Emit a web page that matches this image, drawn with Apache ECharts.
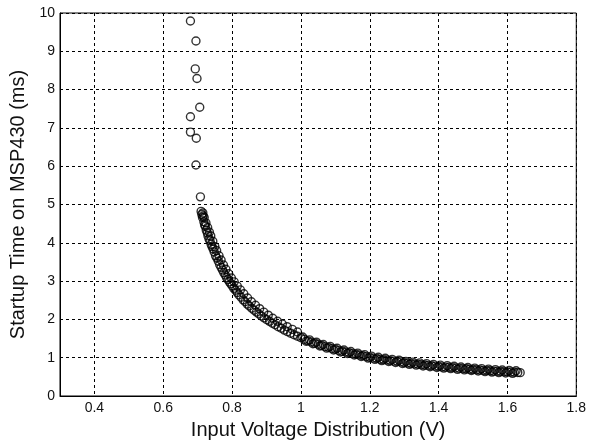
<!DOCTYPE html>
<html>
<head>
<meta charset="utf-8">
<script src="https://cdn.jsdelivr.net/npm/echarts@6/dist/echarts.min.js"></script>
<style>html,body{margin:0;padding:0;background:#fff}#c{width:589px;height:445px}</style>
</head>
<body>
<div id="c"></div>
<script>
// Sparse early measurements (upper part)
const sparseVoltage = [0.679,0.695,0.693,0.698,0.706,0.679,0.679,0.696,0.695,0.708];
const sparseStartup = [9.79,9.27,8.54,8.29,7.54,7.29,6.89,6.73,6.03,5.20];

// Dense measurements, run 1
const voltageA = [0.710,0.712,0.714,0.716,0.718,0.720,0.722,0.725,0.728,0.730,0.733,0.736,0.739,0.742,0.745,0.748,0.752,0.756,0.760,0.764,0.768,0.772,0.776,0.780,0.784,0.788,0.792,0.796,0.800,0.805,0.810,0.815,0.820,0.826,0.832,0.838,0.844,0.850,0.857,0.864,0.871,0.878,0.885,0.893,0.901,0.909,0.917,0.925,0.934,0.943,0.952,0.961,0.970,0.980,0.990,
1.000,1.010,1.020,1.030,1.040,1.050,1.060,1.070,1.080,1.090,1.100,1.110,1.120,1.130,1.140,1.150,1.160,1.170,1.180,1.190,1.200,1.210,1.220,1.230,1.240,1.250,1.260,1.270,1.280,1.290,1.300,1.310,1.320,1.330,1.340,1.350,1.360,1.370,1.380,1.390,1.400,1.410,1.420,1.430,1.440,1.450,1.460,1.470,1.480,1.490,1.500,1.510,1.520,1.530,1.540,1.550,1.560,1.570,1.580,1.590,1.600,1.610,1.620,1.630,1.637];
const startupA = [4.82,4.74,4.66,4.70,4.55,4.47,4.43,4.33,4.26,4.18,4.10,4.05,3.96,3.90,3.84,3.76,3.66,3.60,3.52,3.43,3.36,3.29,3.22,3.16,3.09,3.04,2.98,2.93,2.88,2.81,2.76,2.70,2.64,2.58,2.51,2.46,2.40,2.35,2.29,2.24,2.19,2.14,2.09,2.04,1.99,1.95,1.90,1.86,1.81,1.77,1.72,1.68,1.64,1.60,1.56,
1.52,1.48,1.44,1.41,1.38,1.35,1.32,1.29,1.27,1.24,1.22,1.19,1.17,1.15,1.13,1.11,1.09,1.07,1.05,1.03,1.01,0.99,0.98,0.96,0.95,0.94,0.92,0.91,0.90,0.89,0.87,0.86,0.85,0.84,0.83,0.82,0.81,0.80,0.79,0.78,0.77,0.76,0.755,0.75,0.74,0.73,0.72,0.715,0.71,0.70,0.69,0.685,0.68,0.67,0.665,0.66,0.65,0.645,0.64,0.635,0.63,0.625,0.62,0.615,0.61];

// Dense measurements, run 2
const voltageB = [1.005,1.015,1.025,1.035,1.045,1.055,1.065,1.075,1.085,1.095,1.105,1.115,1.125,1.135,1.145,1.155,1.165,1.175,1.185,1.195,1.205,1.215,1.225,1.235,1.245,1.255,1.265,1.275,1.285,1.295,1.305,1.315,1.325,1.335,1.345,1.355,1.365,1.375,1.385,1.395,1.405,1.415,1.425,1.435,1.445,1.455,1.465,1.475,1.485,1.495,1.505,1.515,1.525,1.535,1.545,1.555,1.565,1.575,1.585,1.595,1.605,1.615,1.625];
const startupB = [1.54,1.43,1.465,1.365,1.405,1.305,1.345,1.25,1.295,1.20,1.245,1.15,1.20,1.11,1.16,1.07,1.12,1.03,1.08,0.99,1.04,0.955,1.01,0.925,0.985,0.90,0.955,0.875,0.935,0.85,0.905,0.825,0.885,0.805,0.865,0.785,0.845,0.765,0.825,0.745,0.805,0.728,0.792,0.715,0.775,0.695,0.758,0.682,0.745,0.665,0.728,0.652,0.715,0.638,0.702,0.625,0.688,0.612,0.678,0.602,0.668,0.592,0.658];

// Dense measurements, run 3 (steep part)
const voltageC = [0.715,0.719,0.724,0.729,0.734,0.738,0.744,0.750,0.755,0.762,0.768,0.775,0.782,0.790,0.798,0.806,0.815,0.824,0.834,0.845,0.856,0.868,0.880,0.892,0.905,0.918,0.932,0.946,0.960,0.975,0.990];
const startupC = [4.78,4.66,4.52,4.40,4.28,4.18,4.04,3.90,3.80,3.66,3.55,3.42,3.31,3.19,3.08,2.98,2.87,2.77,2.67,2.56,2.46,2.37,2.28,2.19,2.11,2.03,1.95,1.88,1.81,1.74,1.67];

const xTicks = [0.4,0.6,0.8,1,1.2,1.4,1.6,1.8];

function pairs(xs, ys){ return xs.map((x,i)=>[x, ys[i]]); }

const chart = echarts.init(document.getElementById('c'), null, {renderer:'canvas'});
const txt = '#111';
const font = 'Liberation Sans, Arial, sans-serif';
const marker = {
  type:'scatter', symbol:'circle', symbolSize:8,
  itemStyle:{color:'rgba(0,0,0,0)', borderColor:'#000', borderWidth:1.4},
  silent:true, z:3
};
chart.setOption({
  animation:false,
  backgroundColor:'#fff',
  grid:{left:58, right:10, top:13, bottom:49, show:true, borderColor:'#000', borderWidth:1, backgroundColor:'transparent'},
  xAxis:{
    type:'value', min:0.3, max:1.8, interval:0.1,
    name:'Input Voltage Distribution (V)', nameLocation:'middle', nameGap:24,
    nameTextStyle:{color:txt, fontSize:20, fontFamily:font},
    axisLine:{show:true, lineStyle:{color:'#000', width:1}},
    axisTick:{show:false},
    axisLabel:{color:txt, fontSize:14, fontFamily:font, margin:5,
      formatter:function(v){
        const k = Math.round(v*10);
        if (k % 2 !== 0) return '';
        const t = xTicks.find(tv => Math.abs(tv - v) < 1e-6);
        return t === undefined ? '' : String(t);
      }},
    splitLine:{show:true, lineStyle:{color:['rgba(0,0,0,0)','#000'], type:[3,3], width:1}}
  },
  yAxis:{
    type:'value', min:0, max:10, interval:1,
    name:'Startup Time on MSP430 (ms)', nameLocation:'middle', nameGap:32,
    nameTextStyle:{color:txt, fontSize:20, fontFamily:font},
    axisLine:{show:true, lineStyle:{color:'#000', width:1}},
    axisTick:{show:false},
    axisLabel:{color:txt, fontSize:14, fontFamily:font, margin:5},
    splitLine:{show:true, lineStyle:{color:'#000', type:[3,3], width:1}}
  },
  series:[
    Object.assign({name:'sparse', data:pairs(sparseVoltage, sparseStartup)}, marker),
    Object.assign({name:'runA', data:pairs(voltageA, startupA)}, marker),
    Object.assign({name:'runB', data:pairs(voltageB, startupB)}, marker),
    Object.assign({name:'runC', data:pairs(voltageC, startupC)}, marker)
  ]
});
</script>
</body>
</html>
